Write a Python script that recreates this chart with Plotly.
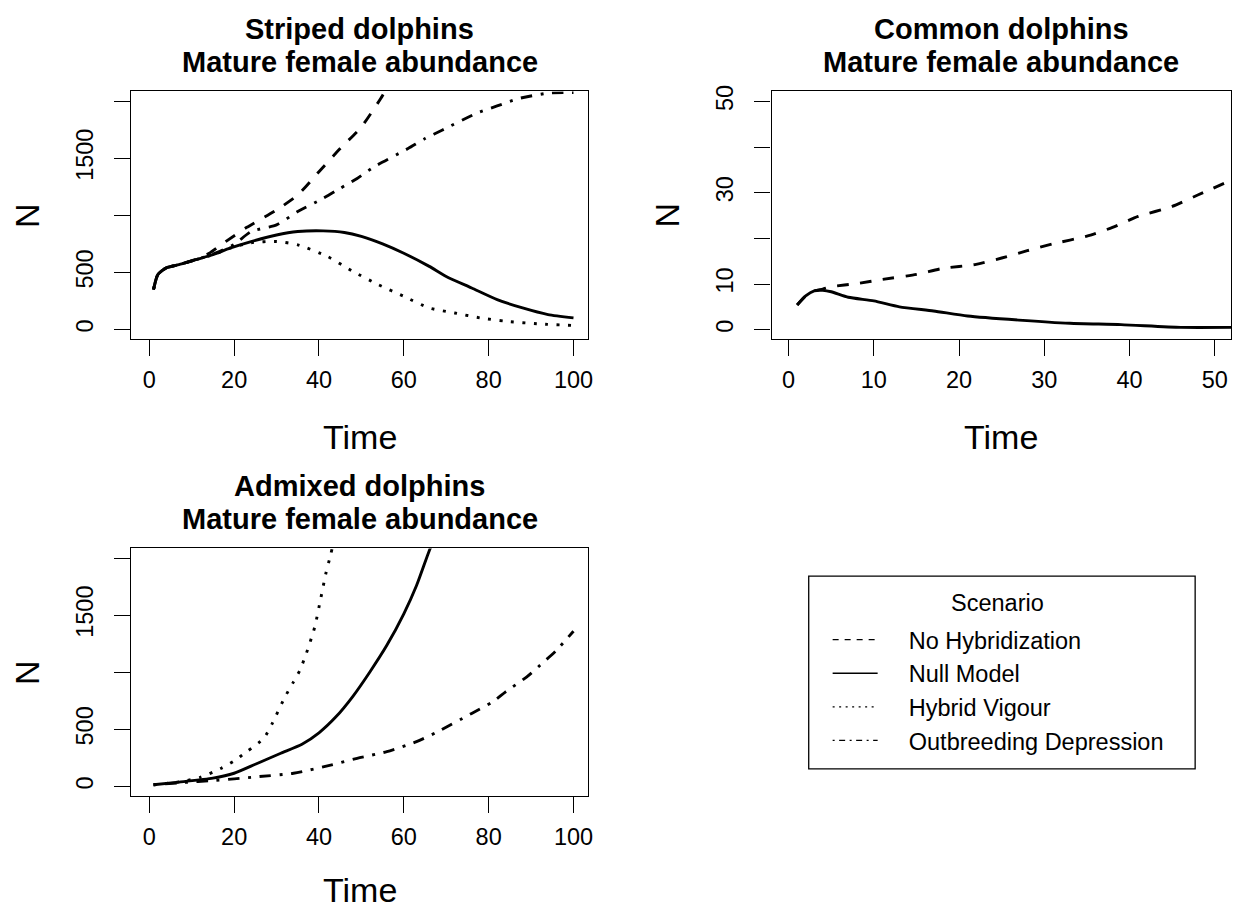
import plotly.graph_objects as go

W, H = 1237, 908

# ---------------- data ----------------
# Striped dolphins
striped_null_t = [1, 2, 4, 7, 11, 15, 19, 24, 30, 35, 41, 46, 50, 55, 60, 66, 70, 76, 82, 88, 94, 100]
striped_null_n = [350, 480, 540, 568, 612, 655, 712, 770, 828, 858, 864, 850, 815, 750, 668, 553, 465, 364, 262, 189, 131, 102]

striped_nohyb_t = [1, 2, 4, 7, 11, 14, 18, 23, 30, 35, 40, 45, 50, 55, 56]
striped_nohyb_n = [350, 480, 540, 568, 615, 665, 770, 895, 1047, 1178, 1382, 1585, 1774, 2050, 2120]

striped_vigour_t = [1, 2, 4, 7, 11, 15, 19, 24, 30, 35, 42, 48, 54, 60, 66, 72, 78, 84, 92, 100]
striped_vigour_n = [350, 480, 540, 568, 612, 655, 712, 760, 771, 742, 640, 509, 393, 291, 189, 145, 102, 73, 49, 36]

striped_outbr_t = [1, 2, 4, 7, 11, 15, 20, 24, 30, 35, 41, 45, 49, 53, 61, 65, 69, 77, 82, 87, 94, 100]
striped_outbr_n = [350, 480, 540, 568, 612, 660, 745, 858, 916, 1033, 1149, 1236, 1323, 1425, 1585, 1672, 1745, 1891, 1958, 2022, 2070, 2075]

# Common dolphins
common_null_t = [1, 2, 3, 4, 5, 7, 10, 13, 17, 21, 27, 33, 39, 46, 52]
common_null_n = [5.4, 7.4, 8.5, 8.6, 8.3, 7.1, 6.3, 5.0, 4.1, 3.0, 2.1, 1.4, 1.1, 0.5, 0.5]

common_nohyb_t = [1, 2, 3, 4, 5, 8, 11, 15, 18, 22, 25, 28, 31, 35, 38, 41, 45, 48, 52]
common_nohyb_n = [5.4, 7.4, 8.5, 8.9, 9.4, 10.1, 11.0, 12.1, 13.4, 14.3, 15.7, 17.3, 18.8, 20.5, 22.4, 24.8, 27.0, 29.5, 32.8]

# Admixed dolphins
admixed_null_t = [1, 7, 15, 20, 25, 31, 36, 40, 44, 48, 52, 56, 60, 63, 66, 67]
admixed_null_n = [15, 38, 73, 116, 195, 291, 370, 470, 610, 790, 1003, 1236, 1512, 1760, 2065, 2150]

admixed_vigour_t = [1, 7, 12, 17, 20, 23, 27, 29, 32, 34, 35.5, 37, 39, 40.4, 41.6, 42.8, 43.5]
admixed_vigour_n = [15, 40, 80, 160, 225, 305, 422, 553, 785, 916, 1018, 1163, 1396, 1643, 1862, 2036, 2150]

admixed_outbr_t = [1, 8, 15, 20, 26, 34, 43, 49, 56, 63, 68, 76, 81, 84, 89, 93, 96, 100]
admixed_outbr_n = [15, 35, 52, 67, 87, 116, 189, 247, 305, 393, 480, 640, 742, 829, 960, 1091, 1193, 1360]

# tick labels (R drops overlapping ones)
big_tickvals = [0, 500, 1000, 1500, 2000]
big_ticktext = ["0", "500", "", "1500", ""]
small_tickvals = [0, 10, 20, 30, 40, 50]
small_ticktext = ["0", "10", "", "30", "", "50"]
time_ticks_100 = [0, 20, 40, 60, 80, 100]
time_ticks_50 = [0, 10, 20, 30, 40, 50]

scenarios = ["No Hybridization", "Null Model", "Hybrid Vigour", "Outbreeding Depression"]

# ---------------- styling ----------------
FONT = "Liberation Sans, Arial, sans-serif"
LW = 2.9
DASH = {
    "No Hybridization": "11.5px,11.5px",
    "Null Model": "solid",
    "Hybrid Vigour": "2.9px,8.6px",
    "Outbreeding Depression": "2.9px,8.6px,11.5px,8.6px",
}
LEG_DASH = {
    "No Hybridization": "6px,6px",
    "Null Model": "solid",
    "Hybrid Vigour": "2px,4.5px",
    "Outbreeding Depression": "2px,4.5px,6px,4.5px",
}
NBSP = "\u00a0" * 4  # gap between legend sample line and its text


def fx(px):
    return px / W


def fy(py):
    return 1 - py / H


fig = go.Figure()


def add_line(t, n, scen, xa, ya):
    fig.add_trace(go.Scatter(
        x=t, y=n, mode="lines", name=scen, showlegend=False,
        line=dict(color="black", width=LW, dash=DASH[scen], shape="spline", smoothing=0.6),
        xaxis=xa, yaxis=ya, cliponaxis=True,
    ))


add_line(striped_nohyb_t, striped_nohyb_n, "No Hybridization", "x", "y")
add_line(striped_null_t, striped_null_n, "Null Model", "x", "y")
add_line(striped_vigour_t, striped_vigour_n, "Hybrid Vigour", "x", "y")
add_line(striped_outbr_t, striped_outbr_n, "Outbreeding Depression", "x", "y")

add_line(common_nohyb_t, common_nohyb_n, "No Hybridization", "x2", "y2")
add_line(common_null_t, common_null_n, "Null Model", "x2", "y2")

add_line(admixed_null_t, admixed_null_n, "Null Model", "x3", "y3")
add_line(admixed_vigour_t, admixed_vigour_n, "Hybrid Vigour", "x3", "y3")
add_line(admixed_outbr_t, admixed_outbr_n, "Outbreeding Depression", "x3", "y3")

# legend-only entries (thin lines as in the reference legend)
for s in scenarios:
    fig.add_trace(go.Scatter(
        x=[None], y=[None], mode="lines", name=NBSP + s, showlegend=True,
        line=dict(color="black", width=1.3, dash=LEG_DASH[s]),
        xaxis="x", yaxis="y",
    ))

TICK_FS = 23.5
axis_common = dict(
    showgrid=False, zeroline=False, showline=True, mirror=True,
    linecolor="black", linewidth=1.3, ticks="outside", ticklen=16,
    tickwidth=1.3, tickcolor="black",
    tickfont=dict(family=FONT, size=TICK_FS, color="black"),
)

# panel boxes in pixels
TL = dict(x0=132, x1=590.3, y0=86, y1=335)
TR = dict(x0=774.7, x1=1236, y0=86, y1=335)
BL = dict(x0=132, x1=590.3, y0=546, y1=795)

fig.update_layout(
    width=W, height=H, autosize=False,
    margin=dict(l=0, r=0, t=0, b=0),
    paper_bgcolor="white", plot_bgcolor="white",
    font=dict(family=FONT, color="black"),
    xaxis=dict(domain=[fx(TL["x0"]), fx(TL["x1"])], anchor="y", range=[-4.2, 103.4],
               tickvals=time_ticks_100, ticklabelstandoff=4, **axis_common),
    yaxis=dict(domain=[fy(TL["y1"]), fy(TL["y0"])], anchor="x", range=[-81, 2085],
               tickvals=big_tickvals, ticktext=big_ticktext, tickangle=-90,
               ticklabelstandoff=12, **axis_common),
    xaxis2=dict(domain=[fx(TR["x0"]), fx(TR["x1"])], anchor="y2", range=[-2, 51.9],
                tickvals=time_ticks_50, ticklabelstandoff=4, **axis_common),
    yaxis2=dict(domain=[fy(TR["y1"]), fy(TR["y0"])], anchor="x2", range=[-2, 52.2],
                tickvals=small_tickvals, ticktext=small_ticktext, tickangle=-90,
                ticklabelstandoff=12, **axis_common),
    xaxis3=dict(domain=[fx(BL["x0"]), fx(BL["x1"])], anchor="y3", range=[-4.2, 103.4],
                tickvals=time_ticks_100, ticklabelstandoff=4, **axis_common),
    yaxis3=dict(domain=[fy(BL["y1"]), fy(BL["y0"])], anchor="x3", range=[-81, 2085],
                tickvals=big_tickvals, ticktext=big_ticktext, tickangle=-90,
                ticklabelstandoff=12, **axis_common),
    showlegend=True,
    legend=dict(
        x=fx(831), y=fy(616), xanchor="left", yanchor="top",
        bgcolor="rgba(0,0,0,0)", borderwidth=0,
        font=dict(family=FONT, size=23.5, color="black"),
        traceorder="normal", itemwidth=45,
    ),
    shapes=[dict(type="rect", xref="paper", yref="paper",
                 x0=fx(812), x1=fx(1200), y0=fy(768), y1=fy(574),
                 line=dict(color="black", width=1.3), fillcolor="rgba(0,0,0,0)")],
)

annotations = []


def title(cx, y1, y2, line1):
    annotations.append(dict(text="<b>" + line1 + "</b>", x=fx(cx), y=fy(y1), xref="paper", yref="paper",
                            showarrow=False, xanchor="center", yanchor="middle",
                            font=dict(family=FONT, size=29, color="black")))
    annotations.append(dict(text="<b>Mature female abundance</b>", x=fx(cx), y=fy(y2), xref="paper",
                            yref="paper", showarrow=False, xanchor="center", yanchor="middle",
                            font=dict(family=FONT, size=29, color="black")))


def axis_label(text, cx, cy, angle=0):
    annotations.append(dict(text=text, x=fx(cx), y=fy(cy), xref="paper", yref="paper",
                            showarrow=False, xanchor="center", yanchor="middle", textangle=angle,
                            font=dict(family=FONT, size=34, color="black")))


title((TL["x0"] + TL["x1"]) / 2, 23, 56, "Striped dolphins")
title((TR["x0"] + TR["x1"]) / 2, 23, 56, "Common dolphins")
title((BL["x0"] + BL["x1"]) / 2, 483, 516, "Admixed dolphins")

axis_label("Time", (TL["x0"] + TL["x1"]) / 2, 434)
axis_label("Time", (TR["x0"] + TR["x1"]) / 2, 434)
axis_label("Time", (BL["x0"] + BL["x1"]) / 2, 890)
axis_label("N", 27, (TL["y0"] + TL["y1"]) / 2, -90)
axis_label("N", 670, (TR["y0"] + TR["y1"]) / 2, -90)
axis_label("N", 27, (BL["y0"] + BL["y1"]) / 2, -90)

# legend heading
annotations.append(dict(text="Scenario", x=fx(1002), y=fy(601), xref="paper", yref="paper",
                        showarrow=False, xanchor="center", yanchor="middle",
                        font=dict(family=FONT, size=23.5, color="black")))

fig.update_layout(annotations=annotations)

fig.write_html("out.html", config={"displayModeBar": False},
               post_script="document.body.style.margin='0';")
